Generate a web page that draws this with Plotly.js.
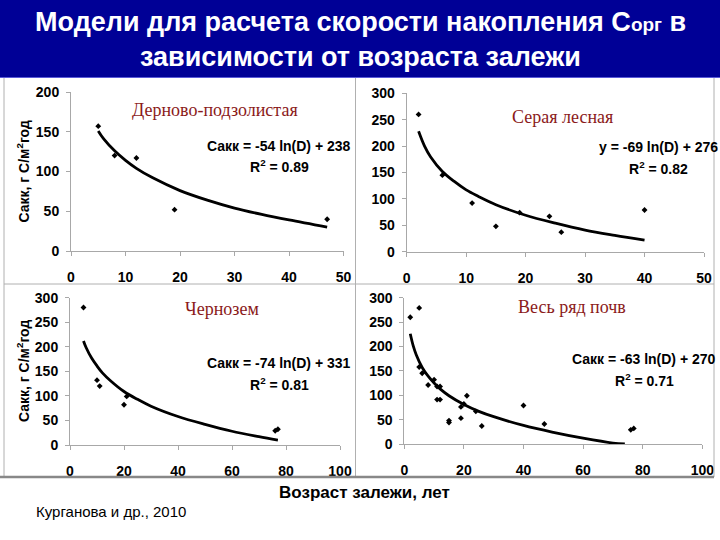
<!DOCTYPE html>
<html>
<head>
<meta charset="utf-8">
<script src="https://cdn.plot.ly/plotly-3.0.1.min.js"></script>
<style>html,body{margin:0;padding:0;background:#fff;}#chart{width:720px;height:540px;}</style>
</head>
<body>
<div id="chart"></div>
<script>
// ---- data ----
const panelNames = ["Дерново-подзолистая", "Серая лесная", "Чернозем", "Весь ряд почв"];
const equations = ["Сакк = -54 ln(D) + 238", "y = -69 ln(D) + 276", "Сакк = -74 ln(D) + 331", "Сакк = -63 ln(D) + 270"];
const r2Values = ["0.89", "0.82", "0.81", "0.71"];

// Дерново-подзолистая
const dernX = [5, 8, 12, 19, 47];
const dernY = [157, 120, 117, 52, 40];
const dernTrendX = [5, 6, 8, 10, 12, 15, 20, 25, 30, 35, 40, 47];
const dernTrendY = [151, 141, 126, 114, 104, 92, 76, 64, 54, 46, 39, 30];

// Серая лесная
const grayX = [2, 6, 11, 15, 19, 24, 26, 40];
const grayY = [260, 145, 92, 48, 74, 67, 37, 79];
const grayTrendX = [2, 3, 4, 6, 8, 10, 12, 15, 20, 25, 30, 35, 40];
const grayTrendY = [228, 200, 180, 152, 133, 117, 105, 89, 69, 54, 41, 31, 22];

// Чернозем
const chernX = [5, 10, 11, 20, 21, 76, 77];
const chernY = [280, 132, 120, 82, 99, 29, 32];
const chernTrendX = [5, 6, 8, 10, 12, 15, 20, 25, 30, 40, 50, 60, 70, 77];
const chernTrendY = [212, 198, 177, 161, 147, 131, 109, 93, 79, 58, 42, 28, 17, 10];

// Весь ряд почв
const allX = [2, 5, 5, 6, 8, 10, 11, 11, 12, 12, 15, 15, 19, 19, 20, 21, 24, 26, 40, 47, 76, 77];
const allY = [260, 279, 158, 145, 121, 132, 118, 91, 118, 91, 48, 44, 76, 53, 82, 99, 67, 37, 79, 41, 29, 32];
const allTrendX = [2, 3, 4, 6, 8, 10, 12, 15, 20, 25, 30, 40, 50, 60, 70, 74];
const allTrendY = [226, 201, 183, 157, 139, 125, 113, 99, 81, 67, 56, 38, 24, 12, 2, 0];

const xRanges = [[0, 50], [0, 50], [0, 100], [0, 100]];
const yRanges = [[0, 200], [0, 300], [0, 300], [0, 300]];
const xDtick = [10, 10, 20, 20];
const yDtick = [50, 50, 50, 50];

const yTitle = "Сакк, г С/м<sup>2</sup>год";
const mainTitle1 = "Модели для расчета скорости накопления С<span style=\"font-size:19px\">орг</span> в";
const mainTitle2 = "зависимости от возраста залежи";
const xTitle = "Возраст залежи, лет";
const sourceText = "Курганова и др., 2010";

// ---- layout helpers ----
const W = 720, H = 540;
const px = v => v / W;
const py = v => 1 - v / H;

const pts = [[dernX, dernY], [grayX, grayY], [chernX, chernY], [allX, allY]];
const trends = [[dernTrendX, dernTrendY], [grayTrendX, grayTrendY], [chernTrendX, chernTrendY], [allTrendX, allTrendY]];

const domX = [[71, 343.5], [406.7, 704], [70, 340], [404.3, 702.3]];
const domY = [[251, 92], [251.7, 93.3], [445, 297.7], [444, 297.7]];

const traces = [];
const layout = {
  width: W, height: H,
  margin: {l: 0, r: 0, t: 0, b: 0},
  paper_bgcolor: "#ffffff",
  plot_bgcolor: "#ffffff",
  showlegend: false,
  font: {family: "Arial, 'Liberation Sans', sans-serif", color: "#000"},
  shapes: [],
  annotations: []
};

for (let i = 0; i < 4; i++) {
  const ax = i === 0 ? "" : String(i + 1);
  traces.push({
    x: trends[i][0], y: trends[i][1], xaxis: "x" + ax, yaxis: "y" + ax,
    type: "scatter", mode: "lines",
    line: {color: "#000", width: 2.8, shape: "spline", smoothing: 1.0},
    hoverinfo: "skip"
  });
  traces.push({
    x: pts[i][0], y: pts[i][1], xaxis: "x" + ax, yaxis: "y" + ax,
    type: "scatter", mode: "markers",
    marker: {symbol: "diamond", size: 4.5, color: "#000"}
  });
  const common = {
    showgrid: false, zeroline: false, showline: true,
    linecolor: "#a8a8a8", linewidth: 1,
    ticks: "outside", ticklen: 4, tickcolor: "#a8a8a8", tickwidth: 1,
    tickfont: {family: "Arial, 'Liberation Sans', sans-serif", size: 14, color: "#000", weight: "bold"},
    fixedrange: true
  };
  layout["xaxis" + ax] = Object.assign({}, common, {
    domain: [px(domX[i][0]), px(domX[i][1])],
    range: xRanges[i], dtick: xDtick[i], tick0: 0,
    anchor: "y" + ax, ticklabelstandoff: 9
  });
  layout["yaxis" + ax] = Object.assign({}, common, {
    domain: [py(domY[i][0]), py(domY[i][1])],
    range: yRanges[i], dtick: yDtick[i], tick0: 0,
    anchor: "x" + ax, ticklabelstandoff: 4
  });
}

// title bar
layout.shapes.push({type: "rect", xref: "paper", yref: "paper", x0: 0, x1: 1, y0: py(77), y1: 1,
  fillcolor: "#000096", line: {width: 0}, layer: "below"});
layout.shapes.push({type: "line", xref: "paper", yref: "paper", x0: 0, x1: 1, y0: py(77.5), y1: py(77.5),
  line: {color: "#5a5ad8", width: 1}});
// frame lines
const frameColor = "#b0b0b0";
[[4, 78, 4, 477], [355.5, 78, 355.5, 477], [714, 78, 714, 477], [4, 284, 714, 284]].forEach(l => {
  layout.shapes.push({type: "line", xref: "paper", yref: "paper",
    x0: px(l[0]), x1: px(l[2]), y0: py(l[1]), y1: py(l[3]), line: {color: frameColor, width: 1}});
});
layout.shapes.push({type: "line", xref: "paper", yref: "paper",
  x0: 0, x1: px(714), y0: py(477), y1: py(477), line: {color: "#888", width: 2.5}});

// title text
layout.annotations.push({xref: "paper", yref: "paper", x: px(360), y: py(22), xanchor: "center", yanchor: "middle",
  text: mainTitle1, showarrow: false, font: {size: 27, color: "#fff", weight: "bold"}});
layout.annotations.push({xref: "paper", yref: "paper", x: px(360), y: py(57), xanchor: "center", yanchor: "middle",
  text: mainTitle2, showarrow: false, font: {size: 27, color: "#fff", weight: "bold"}});

// panel names
const namePos = [[215, 110], [562, 117], [222, 309], [572, 307]];
// equations
const eqPos = [[279, 146, 166], [658, 147, 168], [279, 363, 384], [644, 359, 380]];
for (let i = 0; i < 4; i++) {
  layout.annotations.push({xref: "paper", yref: "paper", x: px(namePos[i][0]), y: py(namePos[i][1]),
    xanchor: "center", yanchor: "middle", showarrow: false, text: panelNames[i],
    font: {family: "'Liberation Serif', 'Times New Roman', serif", size: 18, color: "#8b1a1a"}});
  layout.annotations.push({xref: "paper", yref: "paper", x: px(eqPos[i][0]), y: py(eqPos[i][1]),
    xanchor: "center", yanchor: "middle", showarrow: false, text: equations[i],
    font: {size: 14, color: "#000", weight: "bold"}});
  layout.annotations.push({xref: "paper", yref: "paper", x: px(eqPos[i][0]), y: py(eqPos[i][2]),
    xanchor: "center", yanchor: "middle", showarrow: false, text: "R<sup>2</sup> = " + r2Values[i],
    font: {size: 14, color: "#000", weight: "bold"}});
}
// y titles
[171.5, 371].forEach(yc => {
  layout.annotations.push({xref: "paper", yref: "paper", x: px(23), y: py(yc), xanchor: "center", yanchor: "middle",
    textangle: -90, showarrow: false, text: yTitle, font: {size: 14, color: "#000", weight: "bold"}});
});
// x title & source
layout.annotations.push({xref: "paper", yref: "paper", x: px(364), y: py(492), xanchor: "center", yanchor: "middle",
  showarrow: false, text: xTitle, font: {size: 17, color: "#000", weight: "bold"}});
layout.annotations.push({xref: "paper", yref: "paper", x: px(34), y: py(511), xanchor: "left", yanchor: "middle",
  showarrow: false, text: sourceText, font: {size: 15, color: "#000"}});

Plotly.newPlot("chart", traces, layout, {staticPlot: true, displayModeBar: false});
</script>
</body>
</html>
